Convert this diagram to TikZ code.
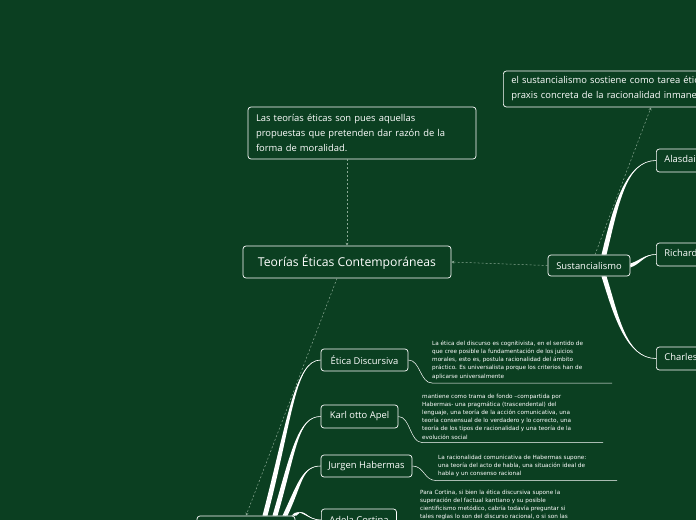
\documentclass[tikz,border=0pt]{standalone}
\usepackage{fontspec}
\setmainfont{Open Sans}
\newfontfamily\notefont{DejaVu Sans}
\usetikzlibrary{arrows.meta,positioning,calc}
\definecolor{forest}{HTML}{0B3F21}
\definecolor{sage}{HTML}{8AA894}

% tapered white branch: base, control 1, control 2, tip, offset x, offset y
\newcommand{\taper}[6]{%
 \fill[white] ($(#1)+(#5,#6)$) .. controls ($(#2)+(#5,#6)$) and (#3) .. (#4)
  .. controls (#3) and ($(#2)-(#5,#6)$) .. ($(#1)-(#5,#6)$) -- cycle;
 \draw[white,line width=0.6pt] (#1) .. controls (#2) and (#3) .. (#4);}

\tikzset{
 topic/.style={draw=white,rounded corners=3pt,line width=0.7pt,text=white,
  font=\fontsize{9.4}{15}\selectfont,inner sep=0pt},
 note/.style={text=white,font=\notefont\fontsize{5.7}{8.2}\selectfont,
  align=left,anchor=north west,inner sep=0pt},
 link/.style={sage,line width=0.5pt,dash pattern=on 2pt off 2pt,
  -{Stealth[length=3pt,width=3pt]}},
 noteline/.style={white,line width=0.5pt},
}

\begin{document}
\begin{tikzpicture}[x=1pt,y=-1pt]
 \useasboundingbox (0,0) rectangle (696,520);
 \fill[forest] (0,0) rectangle (696,520);
 \clip (0,0) rectangle (696,520);

 % main topics
 \node[topic,minimum width=208,minimum height=32,font=\fontsize{12.2}{14}\selectfont] (main) at (347,262) {Teorías Éticas Contemporáneas};
 \node[topic,minimum width=228,minimum height=52,text width=212,align=left] (intro) at (362,133)
  {Las teorías éticas son pues aquellas\\propuestas que pretenden dar razón de la\\forma de moralidad.};
 \node[topic,anchor=west,minimum height=36,text width=260,align=left,inner xsep=8] (sustnote) at (503,89)
  {el sustancialismo sostiene como tarea ética la\\praxis concreta de la racionalidad inmanente};
 \node[topic,minimum width=82,minimum height=21] (sust) at (589,265.5) {Sustancialismo};
 \node[topic,anchor=west,minimum height=23,inner xsep=8] (alas) at (656,160.5) {Alasdair MacIntyre};
 \node[topic,anchor=west,minimum height=23,inner xsep=8] (rich) at (656,254.5) {Richard Rorty};
 \node[topic,anchor=west,minimum height=23,inner xsep=8] (charl) at (656,358.5) {Charles Taylor};

 \node[topic,minimum width=98,minimum height=32] (dial) at (246,532) {};
 \node[topic,minimum width=87,minimum height=22] (eti) at (364.5,360) {Ética Discursiva};
 \node[topic,minimum width=77,minimum height=23] (karl) at (359.5,416.5) {Karl otto Apel};
 \node[topic,minimum width=91,minimum height=22] (jur) at (366.5,466) {Jurgen Habermas};
 \node[topic,anchor=west,minimum height=22,inner xsep=8] (adela) at (321,520) {Adela Cortina};

 % notes
 \node[note] (etinote) at (432,340.5) {La ética del discurso es cognitivista, en el sentido de\\que cree posible la fundamentación de los juicios\\morales, esto es, postula racionalidad del ámbito\\práctico. Es universalista porque los criterios han de\\aplicarse universalmente};
 \node[note] (karlnote) at (422,393.5) {mantiene como trama de fondo –compartida por\\Habermas- una pragmática (trascendental) del\\lenguaje, una teoría de la acción comunicativa, una\\teoría consensual de lo verdadero y lo correcto, una\\teoría de los tipos de racionalidad y una teoría de la\\evolución social};
 \node[note] (jurnote) at (438,454.5) {La racionalidad comunicativa de Habermas supone:\\una teoría del acto de habla, una situación ideal de\\habla y un consenso racional};
 \node[note] (adelanote) at (420,489.5) {Para Cortina, si bien la ética discursiva supone la\\superación del factual kantiano y su posible\\cientificismo metódico, cabría todavía preguntar si\\tales reglas lo son del discurso racional, o si son las};

 % dashed links
 \draw[link] (intro.south -| main.north) -- (main.north);
 \draw[link] (sust.west) -- (main.east);
 \draw[link] ($(sust.north)+(6,0)$) -- ($(sustnote.south west)+(148,0)$);
 \draw[link] ($(main.south)+(-10,0)$) -- (dial.north);

 % branches
 \coordinate (ba) at ($(sust.north)+(15,0)$);
 \coordinate (bc) at ($(sust.south)+(15,0)$);
 \taper{ba}{616,205}{626,160.5}{alas.west}{2.5}{0}
 \taper{sust.east}{641,262}{644,254.5}{rich.west}{0}{2}
 \taper{bc}{616,315}{626,358.5}{charl.west}{2.5}{0}

 \coordinate (b1) at ($(dial.north)+(19,0)$);
 \coordinate (b2) at ($(dial.north)+(29,0)$);
 \coordinate (b3) at ($(dial.north)+(39,0)$);
 \coordinate (b4) at ($(dial.north)+(48,0)$);
 \taper{b1}{290,420}{295,360}{eti.west}{2.5}{0}
 \taper{b2}{294,450}{298,416.5}{karl.west}{2.5}{0}
 \taper{b3}{300,484}{302,466}{jur.west}{2.5}{0}
 \taper{b4}{302,506}{306,520}{adela.west}{2.5}{0}

 % note underlines
 \draw[noteline] (eti.east) .. controls +(12,0) and +(-12,0) .. (432,383) -- (612,383);
 \draw[noteline] (karl.east) .. controls +(12,0) and +(-12,0) .. (422,442.5) -- (603,442.5);
 \draw[noteline] (jur.east) .. controls +(12,0) and +(-12,0) .. (436,480.5) -- (617,480.5);
\end{tikzpicture}
\end{document}
